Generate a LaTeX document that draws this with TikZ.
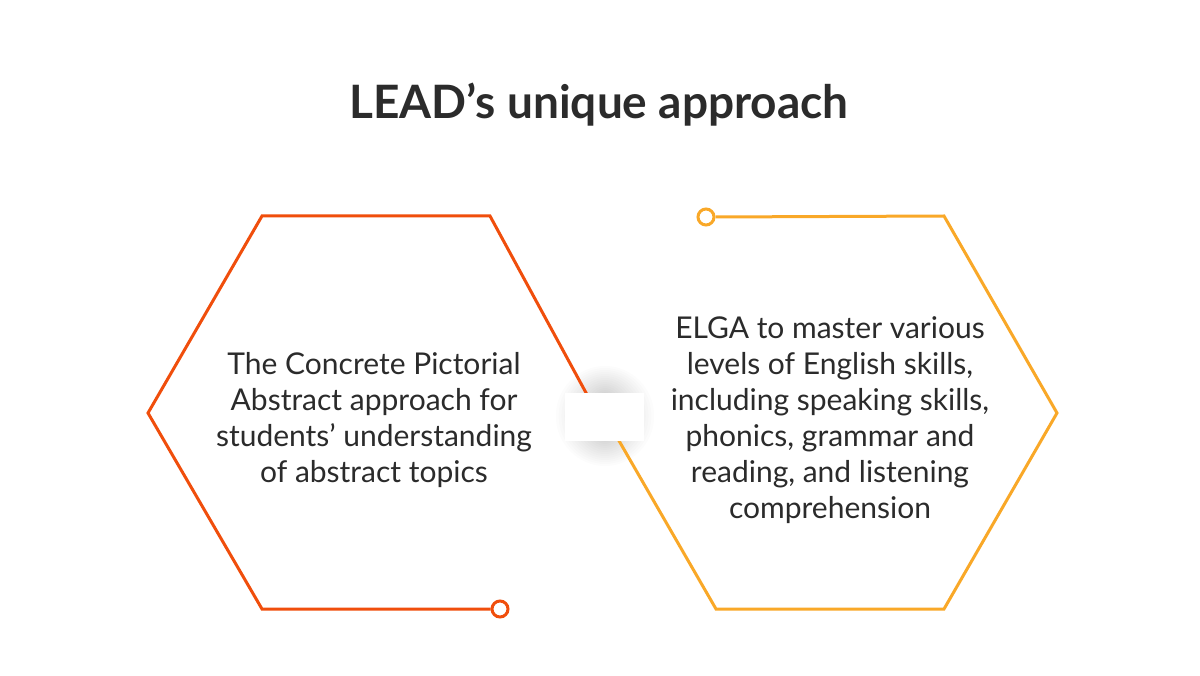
\documentclass[tikz,border=0pt]{standalone}
\usepackage{fontspec}
\setmainfont{Lato}
\definecolor{hexred}{HTML}{F04E0C}
\definecolor{hexyel}{HTML}{F9A828}
\definecolor{txt}{HTML}{2B2B2B}
\tikzset{
  edge/.style={line width=3pt, line join=miter},
  dot/.style={circle, draw, line width=3pt, fill=white, minimum size=16pt, inner sep=0pt},
  body/.style={text=txt, align=center, font=\fontsize{30}{36}\selectfont},
}
\begin{document}
\begin{tikzpicture}[x=1pt,y=-1pt]
\useasboundingbox[fill=white] (0,0) rectangle (1200,676);
\node[text=txt, font=\fontsize{46}{54}\selectfont\bfseries] (title) at (599,105) {LEAD’s unique approach};
% soft shadow
\foreach \k in {1,...,14} {
  \fill[black, fill opacity=0.011] (605,416) ellipse [x radius={52-2.8*\k}, y radius={52-2*\k}];
}
% left hexagon
\coordinate (L1) at (262,216);
\coordinate (L2) at (490,216);
\coordinate (L3) at (597,413);
\coordinate (L5) at (262,609);
\coordinate (L6) at (148,413);
\node[dot, draw=hexred] (ldot) at (500,609) {};
\draw[edge, hexred] (L3) -- (L2) -- (L1) -- (L6) -- (L5) -- (ldot.west);
% right hexagon
\coordinate (R2) at (944,216);
\coordinate (R3) at (1057,413);
\coordinate (R4) at (944,609);
\coordinate (R5) at (716,609);
\coordinate (R6) at (603,413);
\node[dot, draw=hexyel] (rdot) at (706,217) {};
\draw[edge, hexyel] (rdot.east) -- (R2) -- (R3) -- (R4) -- (R5) -- (R6);
% white cover box
\fill[white] (565,393) rectangle (644,441);
% texts
\node[body] (ltext) at (374,420) {The Concrete Pictorial\\Abstract approach for\\students’ understanding\\of abstract topics};
\node[body] (rtext) at (830,420) {ELGA to master various\\levels of English skills,\\including speaking skills,\\phonics, grammar and\\reading, and listening\\comprehension};
\end{tikzpicture}
\end{document}
